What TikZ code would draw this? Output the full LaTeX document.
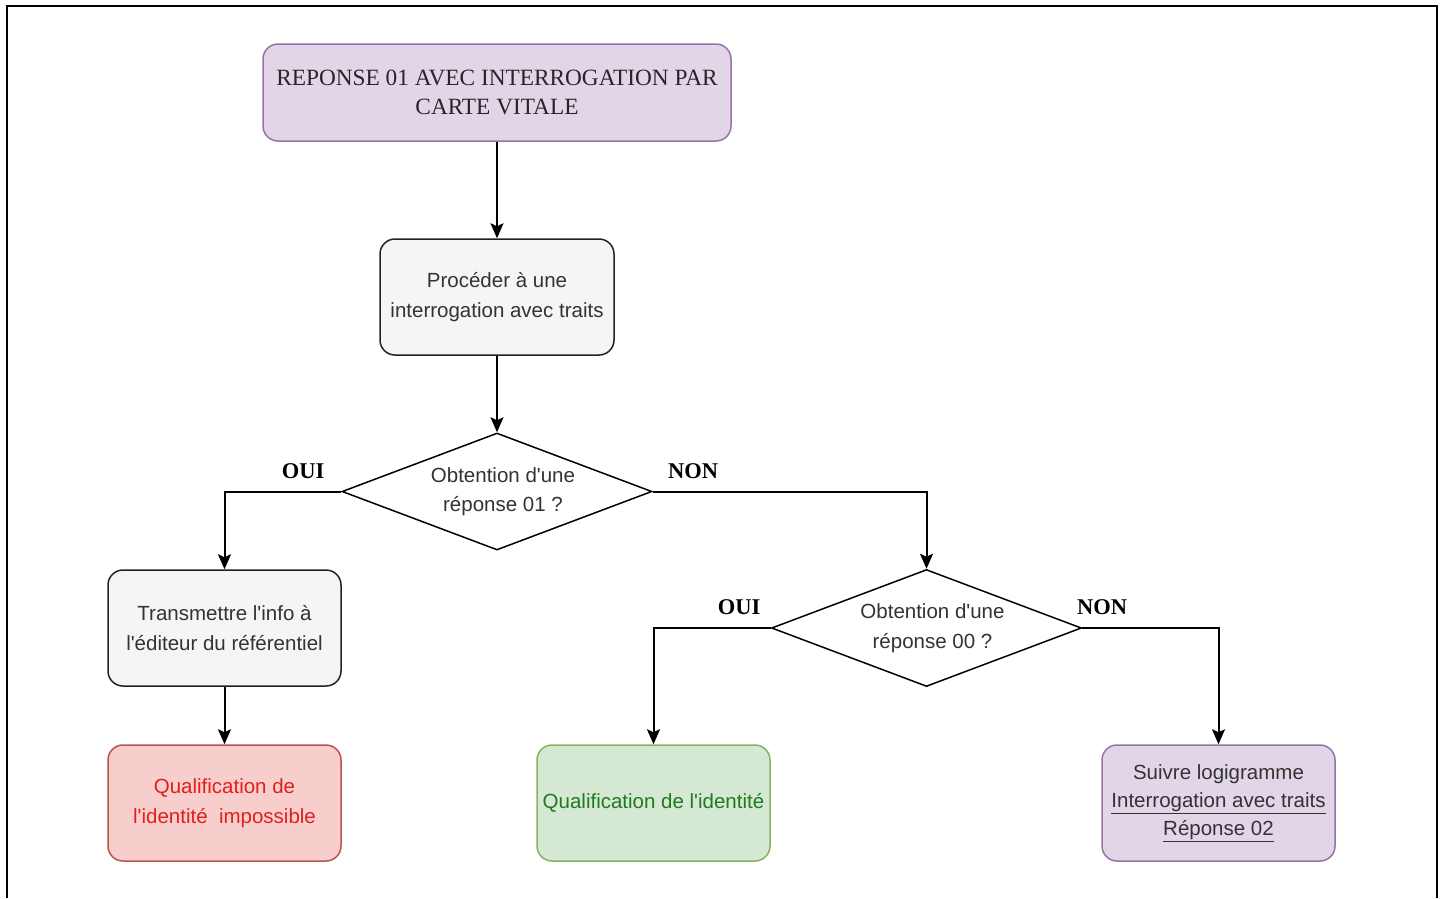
\documentclass[tikz,border=0pt]{standalone}
\usepackage{fontspec}
\setmainfont{Liberation Sans}
\newfontfamily\titlefont{Liberation Serif}
\usetikzlibrary{shapes.geometric,arrows.meta}
\definecolor{purplefill}{HTML}{E1D5E7}
\definecolor{purpleline}{HTML}{9673A6}
\definecolor{grayfill}{HTML}{F5F5F5}
\definecolor{grayline}{HTML}{222222}
\definecolor{redfill}{HTML}{F8CECC}
\definecolor{redline}{HTML}{B85450}
\definecolor{redtext}{HTML}{E0201E}
\definecolor{greenfill}{HTML}{D5E8D4}
\definecolor{greenline}{HTML}{82B366}
\definecolor{greentext}{HTML}{1E7B1E}
\definecolor{bodytext}{HTML}{333333}
\newcommand{\q}{\textquotesingle}
\newcommand{\ul}[1]{\underline{#1}}
\tikzset{
  box/.style={rectangle, rounded corners=15pt, line width=1.5pt, align=center,
    minimum width=233pt, minimum height=116pt, inner sep=0pt,
    font=\fontsize{20.5}{29.5}\selectfont, text=bodytext},
  graybox/.style={box, fill=grayfill, draw=grayline},
  purplebox/.style={box, fill=purplefill, draw=purpleline},
  redbox/.style={box, fill=redfill, draw=redline, text=redtext},
  greenbox/.style={box, fill=greenfill, draw=greenline, text=greentext},
  decision/.style={diamond, draw=black, line width=1.5pt, fill=white, aspect=2.65,
    minimum width=310pt, minimum height=117pt, inner sep=0pt, align=center,
    font=\fontsize{20.5}{29.5}\selectfont, text=bodytext},
  lbl/.style={font=\titlefont\bfseries\fontsize{22.5}{26}\selectfont, text=black},
  conn/.style={line width=2pt, draw=black, -{Stealth[length=15pt,width=13pt,inset=3pt]}}
}
\begin{document}
\begin{tikzpicture}[x=1pt,y=-1pt]
\useasboundingbox (0,0) rectangle (1445,898);
\draw[line width=2.5pt] (7,898) -- (7,6) -- (1437,6) -- (1437,898);

\node[purplebox, minimum width=468pt, minimum height=97pt, text=black!85,
  font=\titlefont\fontsize{23.3}{29.5}\selectfont] (title) at (497,92.5)
  {REPONSE 01 AVEC INTERROGATION PAR\\CARTE VITALE};
\node[graybox, minimum width=234pt] (proc) at (497,297) {Procéder à une\\interrogation avec traits};
\node[decision] (d1) at (497,491.5) {\hspace*{12pt}Obtention d\q une\\\hspace*{12pt}réponse 01 ?};
\node[graybox] (trans) at (224.5,628) {Transmettre l\q info à\\l\q éditeur du référentiel};
\node[redbox] (imp) at (224.5,803) {Qualification de\\l\q identité\ \ impossible};
\node[decision] (d2) at (926.5,628) {\hspace*{12pt}Obtention d\q une\\\hspace*{12pt}réponse 00 ?};
\node[greenbox] (qual) at (653.5,803) {Qualification de l\q identité};
\node[purplebox, font=\fontsize{20.5}{28}\selectfont] (suiv) at (1218.5,803)
  {Suivre logigramme\\\ul{Interrogation avec traits}\\\ul{Réponse 02}};

\node[lbl] (oui1) at (303,471) {OUI};
\node[lbl] (non1) at (693,471) {NON};
\node[lbl] (oui2) at (739,607) {OUI};
\node[lbl] (non2) at (1102,607) {NON};

\draw[conn] (title.south) -- (proc.north);
\draw[conn] (proc.south) -- (d1.north);
\draw[conn] (d1.west) -| (trans.north);
\draw[conn] (d1.east) -| (d2.north);
\draw[conn] (trans.south) -- (imp.north);
\draw[conn] (d2.west) -| (qual.north);
\draw[conn] (d2.east) -| (suiv.north);
\end{tikzpicture}
\end{document}
